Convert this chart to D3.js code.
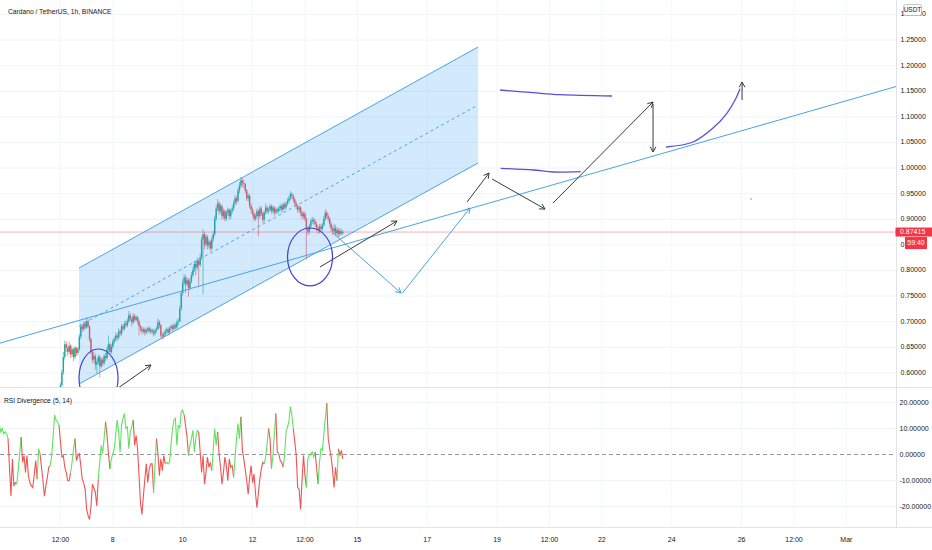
<!DOCTYPE html>
<html><head><meta charset="utf-8">
<script src="https://cdn.jsdelivr.net/npm/d3@7"></script>
<style>html,body{margin:0;padding:0;background:#fff}svg{display:block}</style>
</head><body>
<svg id="c" width="932" height="550"></svg>
<script>
// ---------------- DATA ----------------
const title = "Cardano / TetherUS, 1h, BINANCE";
const indicatorTitle = "RSI Divergence (5, 14)";
const quoteCurrency = "USDT";
const lastBar = "2022-02-14T14:00:00Z";
const firstOpen = 0.560;
const closes = [
0.575,0.600,0.630,0.655,0.648,
0.640,0.652,0.635,0.645,0.630,0.648,0.638,0.645,
0.670,0.690,0.685,0.695,0.688,
0.700,0.690,0.665,
0.640,0.625,0.632,0.615,0.620,
0.630,0.612,0.625,0.618,0.632,0.628,
0.645,0.655,0.640,0.650,0.660,0.665,0.672,
0.668,0.680,0.676,0.690,0.685,0.695,0.692,
0.700,0.712,0.705,0.698,0.710,0.703,0.708,0.700,0.690,
0.685,0.680,0.684,0.678,0.682,0.686,0.680,0.683,0.679,0.676,0.682,0.685,
0.698,0.692,0.672,0.670,
0.675,0.680,0.684,0.678,0.686,0.690,0.685,0.692,0.688,0.698,
0.700,0.725,0.755,0.775,0.785,
0.772,0.780,0.765,0.778,
0.790,0.800,0.812,0.805,0.818,0.810,0.825,
0.860,0.870,0.850,0.865,
0.848,0.855,0.842,0.860,0.870,0.900,
0.920,0.930,0.915,0.925,
0.905,0.915,0.900,0.912,0.918,0.905,0.915,0.920,
0.930,0.940,0.935,0.955,0.965,0.975,0.970,0.968,
0.955,0.940,0.945,0.925,0.918,0.910,0.900,0.905,
0.915,0.905,0.920,0.910,0.898,0.912,0.922,0.915,
0.918,0.925,0.915,0.922,0.912,0.918,0.915,
0.920,0.925,0.918,0.928,0.922,0.930,0.935,0.940,0.948,0.945,0.938,
0.930,0.925,0.918,0.922,0.912,0.905,0.910,
0.900,0.880,0.875,0.885,0.895,
0.898,0.895,0.890,0.882,0.878,0.885,0.880,0.888,
0.900,0.912,0.905,0.900,
0.890,0.880,0.876,0.882,0.872,0.878,0.870,
0.876,0.872,0.87415];
const highs = [
0.580,0.605,0.640,0.662,0.660,
0.652,0.660,0.655,0.650,0.648,0.652,0.650,0.650,
0.675,0.695,0.694,0.700,0.700,
0.708,0.704,0.692,
0.668,0.645,0.640,0.636,0.626,
0.635,0.634,0.630,0.628,0.636,0.638,
0.650,0.672,0.658,0.655,0.665,0.670,0.678,
0.676,0.686,0.684,0.695,0.694,0.700,0.702,
0.706,0.720,0.716,0.708,0.716,0.714,0.712,0.710,0.704,
0.694,0.690,0.688,0.688,0.686,0.690,0.690,0.688,0.686,0.684,0.686,0.690,
0.705,0.702,0.695,0.678,
0.680,0.685,0.688,0.688,0.690,0.694,0.694,0.696,0.696,0.703,
0.706,0.730,0.760,0.782,0.792,
0.790,0.786,0.784,0.784,
0.796,0.806,0.818,0.816,0.824,0.822,0.832,
0.866,0.880,0.874,0.870,
0.868,0.860,0.858,0.866,0.876,0.906,
0.926,0.938,0.934,0.930,
0.928,0.920,0.918,0.916,0.922,0.920,0.920,0.926,
0.936,0.946,0.944,0.960,0.972,0.982,0.980,0.976,
0.970,0.958,0.950,0.948,0.930,0.922,0.914,0.910,
0.920,0.918,0.925,0.924,0.914,0.916,0.930,0.926,
0.922,0.930,0.928,0.926,0.925,0.922,0.922,
0.924,0.930,0.928,0.932,0.932,0.934,0.940,0.945,0.954,0.952,0.948,
0.942,0.934,0.928,0.926,0.925,0.916,0.914,
0.914,0.903,0.886,0.890,0.900,
0.904,0.902,0.900,0.894,0.886,0.890,0.890,0.892,
0.906,0.918,0.916,0.910,
0.904,0.894,0.886,0.890,0.888,0.884,0.882,
0.882,0.880,0.878];
const lows = [
0.555,0.570,0.595,0.625,0.640,
0.632,0.636,0.628,0.630,0.622,0.626,0.632,0.634,
0.642,0.665,0.680,0.680,0.684,
0.685,0.686,0.660,
0.635,0.618,0.620,0.605,0.598,
0.615,0.590,0.608,0.612,0.614,0.622,
0.625,0.640,0.635,0.636,0.646,0.655,0.660,
0.662,0.664,0.670,0.672,0.680,0.682,0.688,
0.688,0.696,0.700,0.690,0.694,0.698,0.700,0.694,0.672,
0.680,0.674,0.676,0.672,0.674,0.678,0.676,0.676,0.674,0.670,0.672,0.678,
0.682,0.686,0.666,0.664,
0.666,0.670,0.676,0.672,0.674,0.682,0.680,0.682,0.684,0.685,
0.692,0.698,0.720,0.750,0.770,
0.755,0.768,0.748,0.760,
0.774,0.786,0.796,0.790,0.800,0.766,0.806,
0.820,0.752,0.840,0.845,
0.840,0.842,0.836,0.838,0.855,0.866,
0.896,0.915,0.908,0.910,
0.898,0.900,0.895,0.896,0.906,0.898,0.900,0.910,
0.916,0.926,0.928,0.932,0.950,0.960,0.962,0.960,
0.950,0.935,0.934,0.920,0.910,0.904,0.895,0.896,
0.900,0.866,0.900,0.905,0.892,0.894,0.908,0.910,
0.910,0.914,0.910,0.910,0.906,0.908,0.910,
0.910,0.916,0.912,0.914,0.918,0.918,0.926,0.930,0.936,0.938,0.932,
0.925,0.918,0.912,0.912,0.905,0.898,0.900,
0.895,0.820,0.868,0.870,0.880,
0.890,0.888,0.884,0.876,0.870,0.872,0.874,0.876,
0.884,0.896,0.900,0.894,
0.884,0.874,0.868,0.870,0.866,0.866,0.864,
0.866,0.868,0.869];
const rsiValues = [
15.2,11.5,8.7,10.0,8.0,8.7,8.0,6.1,-5.0,-16.0,-1.7,-12.1,-10.8,-11.4,-6.0,0.3,6.7,
-3.0,-0.4,-6.9,-0.4,-8.2,-10.8,-12.1,-12.7,-8.0,-2.3,-9.5,2.2,0.3,-4.9,-10.0,-16.0,
-12.1,-8.8,-4.9,-4.3,-0.4,7.0,15.2,13.2,12.6,11.3,5.0,-1.0,-0.4,-4.9,-6.9,-10.1,-10.1,
-7.0,-3.0,2.0,6.1,-2.3,-0.4,0.3,-4.3,-9.5,-11.0,-13.4,-21.1,-23.5,-25.0,-19.8,-11.4,
-13.0,-14.7,-19.8,-9.5,-3.0,3.5,0.3,6.0,12.6,7.4,0.3,-5.6,-1.7,0.3,2.2,8.0,13.2,8.7,
0.9,11.3,13.8,15.8,10.0,10.6,2.2,8.7,10.6,13.2,3.5,7.4,2.2,-8.0,-18.5,-23.1,-16.0,
-9.5,-3.6,-10.8,-5.6,-3.6,-3.6,-14.7,-4.0,6.1,0.3,-8.2,-1.7,-6.2,-0.4,-3.6,-3.0,
-3.6,-3.0,4.0,10.0,13.2,13.9,3.5,11.3,10.0,16.5,17.1,15.2,11.0,6.7,-0.4,3.5,6.1,9.3,
0.9,6.1,9.3,8.7,1.0,-6.9,-0.4,-11.4,-6.9,-1.0,-4.9,-3.0,-6.2,2.0,10.0,3.5,8.7,0.3,
-5.0,-11.4,-6.9,-1.0,-4.3,-10.1,-1.7,-4.9,-4.3,-8.8,-1.0,6.1,11.9,6.1,14.5,1.6,-1.7,
-6.0,-10.1,-15.3,-8.8,-4.3,-10.8,-7.5,-14.7,-20.5,-15.0,-9.5,-5.6,-3.0,-3.6,-1.0,4.0,
10.0,6.1,-5.6,-0.4,8.0,15.8,0.9,0.3,-2.3,-3.0,-4.9,-0.4,8.7,10.6,12.6,18.4,15.2,10.0,
5.0,-0.4,-12.7,-13.4,-21.1,-10.0,-0.4,-8.2,-12.7,-1.7,-0.4,0.3,0.9,-1.0,0.9,-5.0,
-11.4,-3.0,2.2,1.6,8.0,13.9,19.7,6.1,2.2,-1.0,-6.0,-12.7,-4.9,-10.1,2.2,-0.4,1.6,-1.7];
// colour runs of the RSI line, read left to right: [count, "G"|"R"]
const rsiColorRuns = [[8,"G"],[6,"R"],[3,"G"],[11,"R"],[2,"G"],[7,"R"],[6,"G"],[8,"R"],
[3,"G"],[16,"R"],[5,"G"],[3,"R"],[16,"G"],[14,"R"],[2,"G"],[6,"R"],[13,"G"],[3,"R"],
[7,"G"],[9,"R"],[4,"G"],[11,"R"],[5,"G"],[16,"R"],[3,"G"],[2,"R"],[3,"G"],[5,"R"],
[7,"G"],[9,"R"],[6,"G"],[2,"R"],[6,"G"],[7,"R"],[1,"G"],[3,"R"]];
const lastPrice = 0.87415;
const countdown = "59:40";
const priceTicks = [1.30,1.25,1.20,1.15,1.10,1.05,1.00,0.95,0.90,0.85,0.80,0.75,0.70,0.65,0.60];
const rsiTicks = [20,10,0,-10,-20];
const timeTicks = ["2022-02-06T12:00:00Z","2022-02-08T00:00:00Z","2022-02-10T00:00:00Z","2022-02-12T00:00:00Z",
"2022-02-13T12:00:00Z","2022-02-15T00:00:00Z","2022-02-17T00:00:00Z","2022-02-19T00:00:00Z","2022-02-20T12:00:00Z",
"2022-02-22T00:00:00Z","2022-02-24T00:00:00Z","2022-02-26T00:00:00Z","2022-02-27T12:00:00Z","2022-03-01T00:00:00Z"];
const timeTickLabels = ["12:00","8","10","12","12:00","15","17","19","12:00","22","24","26","12:00","Mar"];
// drawings (time, price anchors)
const channelTimes = ["2022-02-07T00:46:00Z","2022-02-18T10:55:00Z"];
const channelUpper = [0.8039,1.2355];
const channelMiddle = [0.6906,1.1223];
const channelLower = [0.5773,1.0090];
const trendAnchors = [["2022-02-08T12:00:00Z",0.7301],["2022-02-27T16:00:00Z",1.1045]];
const blueArrows = [
 [["2022-02-14T07:18:00Z",0.8723],["2022-02-16T06:00:00Z",0.7551]],
 [["2022-02-16T07:00:00Z",0.7551],["2022-02-18T05:25:00Z",0.9211]]];
const blackArrows = [
 [["2022-02-08T03:35:00Z",0.5695],["2022-02-09T02:14:00Z",0.6145]],
 [["2022-02-13T22:22:00Z",0.8059],["2022-02-16T03:16:00Z",0.8957]],
 [["2022-02-18T03:22:00Z",0.9328],["2022-02-18T18:29:00Z",0.9895]],
 [["2022-02-18T20:33:00Z",0.9777],["2022-02-20T08:57:00Z",0.9191]],
 [["2022-02-20T14:27:00Z",0.9309],["2022-02-23T11:09:00Z",1.1281]],
 [["2022-02-23T11:09:00Z",1.1242],["2022-02-23T11:09:00Z",1.0305]],
 [["2022-02-26T00:19:00Z",1.1320],["2022-02-26T00:19:00Z",1.1672]]];
const brushStrokes = [
 [["2022-02-19T02:02:00Z",1.1516],["2022-02-20T00:43:00Z",1.1463],["2022-02-20T19:16:00Z",1.1424],["2022-02-22T07:00:00Z",1.1398]],
 [["2022-02-19T02:31:00Z",0.9986],["2022-02-20T00:56:00Z",0.9953],["2022-02-20T14:40:00Z",0.9914],["2022-02-21T09:30:00Z",0.9920]],
 [["2022-02-23T20:05:00Z",1.0402],["2022-02-24T14:38:00Z",1.0500],["2022-02-25T04:23:00Z",1.0773],["2022-02-25T14:00:00Z",1.1066],["2022-02-25T19:30:00Z",1.1320],["2022-02-25T22:57:00Z",1.1540]]];
const ellipses = [
 [["2022-02-13T00:02:00Z",0.8820],["2022-02-14T06:56:00Z",0.7688]],
 [["2022-02-07T00:46:00Z",0.6457],["2022-02-08T03:35:00Z",0.5324]]];
const dotMark = ["2022-02-26T06:30:00Z",0.9387];

// ---------------- CHART ----------------
const W = 932, H = 550;
const paneRight = 896, mainBottom = 387, rsiTop = 388, rsiBottom = 527;
const font = "'Liberation Sans Narrow','Liberation Sans',Arial,sans-serif";
const svg = d3.select("#c");

const x = d3.scaleUtc().domain([new Date("2022-02-01T00:00:00Z"), new Date("2022-03-01T00:00:00Z")]).range([-131.7, 846.4]);
const y = d3.scaleLinear().domain([0.60, 1.25]).range([372.4, 39.6]);
const yr = d3.scaleLinear().domain([-20, 20]).range([506.5, 402.5]);
const P = p => [x(new Date(p[0])), y(p[1])];

const defs = svg.append("defs");
defs.append("clipPath").attr("id","clipMain").append("rect").attr("x",0).attr("y",0).attr("width",paneRight).attr("height",mainBottom);
defs.append("clipPath").attr("id","clipRsi").append("rect").attr("x",0).attr("y",rsiTop).attr("width",paneRight).attr("height",rsiBottom-rsiTop);

// grid
const grid = svg.append("g");
grid.selectAll("line.hg").data(priceTicks).join("line")
  .attr("x1",0).attr("x2",paneRight).attr("y1",d=>y(d)+0.5).attr("y2",d=>y(d)+0.5)
  .attr("stroke","#f0f3fa").attr("stroke-width",1);
grid.selectAll("line.rg").data(rsiTicks.filter(d=>d!==0)).join("line")
  .attr("x1",0).attr("x2",paneRight).attr("y1",d=>yr(d)).attr("y2",d=>yr(d))
  .attr("stroke","#f0f3fa").attr("stroke-width",1);
svg.append("g").selectAll("line").data(timeTicks).join("line")
  .attr("x1",d=>x(new Date(d))).attr("x2",d=>x(new Date(d)))
  .attr("y1",0).attr("y2",rsiBottom).attr("stroke","#f5f6f9").attr("stroke-width",1);

const main = svg.append("g").attr("clip-path","url(#clipMain)");

// candles
const n = closes.length;
const lastT = new Date(lastBar).getTime();
const bars = closes.map((c,i)=>({t:new Date(lastT-(n-1-i)*36e5), o:i?closes[i-1]:firstOpen, c, h:highs[i], l:lows[i]}));
const up = "#26a69a", dn = "#ef5350";
main.append("g").selectAll("line").data(bars).join("line")
  .attr("x1",d=>x(d.t)).attr("x2",d=>x(d.t)).attr("y1",d=>y(d.h)).attr("y2",d=>y(d.l))
  .attr("stroke",d=>d.c>=d.o?up:dn).attr("stroke-width",0.8).attr("stroke-opacity",0.75);
main.append("g").selectAll("rect").data(bars).join("rect")
  .attr("x",d=>x(d.t)-0.7).attr("width",1.4)
  .attr("y",d=>y(Math.max(d.o,d.c))).attr("height",d=>Math.max(0.9,Math.abs(y(d.o)-y(d.c))))
  .attr("fill",d=>d.c>=d.o?up:dn);

// channel
const cx0 = x(new Date(channelTimes[0])), cx1 = x(new Date(channelTimes[1]));
main.append("path")
  .attr("d",`M${cx0},${y(channelUpper[0])}L${cx1},${y(channelUpper[1])}L${cx1},${y(channelLower[1])}L${cx0},${y(channelLower[0])}Z`)
  .attr("fill","rgba(33,150,243,0.2)");
[channelUpper,channelLower].forEach(c=>{
  main.append("line").attr("x1",cx0).attr("y1",y(c[0])).attr("x2",cx1).attr("y2",y(c[1]))
    .attr("stroke","#4ba3e3").attr("stroke-width",1);
});
main.append("line").attr("x1",cx0).attr("y1",y(channelMiddle[0])).attr("x2",cx1).attr("y2",y(channelMiddle[1]))
  .attr("stroke","#4ba3e3").attr("stroke-width",1).attr("stroke-dasharray","3,3");

// last price line
main.append("line").attr("x1",0).attr("x2",paneRight).attr("y1",y(lastPrice)).attr("y2",y(lastPrice))
  .attr("stroke","#f23645").attr("stroke-opacity",0.4).attr("stroke-width",1);

// extended trend line
const [ta, tb] = trendAnchors.map(P);
const slope = (tb[1]-ta[1])/(tb[0]-ta[0]);
main.append("line").attr("x1",0).attr("y1",ta[1]+slope*(0-ta[0])).attr("x2",paneRight).attr("y2",ta[1]+slope*(paneRight-ta[0]))
  .attr("stroke","#4ba3e3").attr("stroke-width",1);

// arrows
function arrow(g, a, color){
  const [x0,y0] = P(a[0]), [x1,y1] = P(a[1]);
  const ang = Math.atan2(y1-y0, x1-x0), L = 6, s = 0.5;
  g.append("line").attr("x1",x0).attr("y1",y0).attr("x2",x1).attr("y2",y1).attr("stroke",color).attr("stroke-width",1);
  g.append("path").attr("d",`M${x1-L*Math.cos(ang-s)},${y1-L*Math.sin(ang-s)}L${x1},${y1}L${x1-L*Math.cos(ang+s)},${y1-L*Math.sin(ang+s)}`)
    .attr("fill","none").attr("stroke",color).attr("stroke-width",1);
}
blueArrows.forEach(a=>arrow(main,a,"#4ba3e3"));
blackArrows.forEach(a=>arrow(main,a,"#3a3a3a"));

// brush strokes
const brushLine = d3.line().x(d=>P(d)[0]).y(d=>P(d)[1]).curve(d3.curveCatmullRom);
main.selectAll("path.brush").data(brushStrokes).join("path").attr("class","brush")
  .attr("d",brushLine).attr("fill","none").attr("stroke","#5a4fdc").attr("stroke-width",1.3);

// ellipses
main.selectAll("ellipse").data(ellipses).join("ellipse")
  .attr("cx",d=>(P(d[0])[0]+P(d[1])[0])/2).attr("cy",d=>(P(d[0])[1]+P(d[1])[1])/2)
  .attr("rx",d=>Math.abs(P(d[1])[0]-P(d[0])[0])/2).attr("ry",d=>Math.abs(P(d[1])[1]-P(d[0])[1])/2)
  .attr("fill","none").attr("stroke","#3f3fd2").attr("stroke-width",1.2);
main.append("circle").attr("cx",P(dotMark)[0]).attr("cy",P(dotMark)[1]).attr("r",0.8).attr("fill","#888");

// RSI pane
const rsiG = svg.append("g").attr("clip-path","url(#clipRsi)");
rsiG.append("line").attr("x1",0).attr("x2",paneRight).attr("y1",yr(0)).attr("y2",yr(0))
  .attr("stroke","#9598a1").attr("stroke-width",1).attr("stroke-dasharray","4,3");
const rn = rsiValues.length;
const rsi = rsiValues.map((v,i)=>({t:new Date(lastT-(rn-1-i)*36e5), v}));
const rsiLine = d3.line().x(d=>x(d.t)).y(d=>yr(d.v));
let start = 0;
rsiColorRuns.forEach(([cnt,col])=>{
  const seg = rsi.slice(Math.max(0,start-1), start+cnt);
  rsiG.append("path").attr("d",rsiLine(seg)).attr("fill","none")
    .attr("stroke", col==="G" ? "#5fe35f" : "#f05454").attr("stroke-width",1.1);
  start += cnt;
});

// pane borders
svg.append("line").attr("x1",0).attr("x2",W).attr("y1",387.5).attr("y2",387.5).attr("stroke","#e0e3eb");
svg.append("line").attr("x1",0).attr("x2",W).attr("y1",rsiBottom+0.5).attr("y2",rsiBottom+0.5).attr("stroke","#e0e3eb");
svg.append("line").attr("x1",paneRight+0.5).attr("x2",paneRight+0.5).attr("y1",0).attr("y2",rsiBottom).attr("stroke","#e0e3eb");

// price axis labels
const txt = "#131722";
svg.append("g").selectAll("text").data(priceTicks).join("text")
  .attr("x",900.5).attr("y",d=>y(d)).attr("dy","0.35em")
  .attr("font-family",font).attr("font-size",7).attr("fill",txt).text(d=>d.toFixed(5));
svg.append("g").selectAll("text").data(rsiTicks).join("text")
  .attr("x",899.5).attr("y",d=>yr(d)).attr("dy","0.35em")
  .attr("font-family",font).attr("font-size",7).attr("fill",txt).text(d=>d.toFixed(5));

// time axis labels
svg.append("g").selectAll("text").data(timeTicks).join("text")
  .attr("x",d=>x(new Date(d))).attr("y",542).attr("text-anchor","middle")
  .attr("font-family",font).attr("font-size",7).attr("fill",txt).text((d,i)=>timeTickLabels[i]);

// last price label + countdown
const ly = y(lastPrice);
svg.append("rect").attr("x",paneRight-0.5).attr("y",ly-4.5).attr("width",W-paneRight+1).attr("height",9).attr("fill","#f23645");
svg.append("text").attr("x",900).attr("y",ly).attr("dy","0.35em").attr("font-family",font).attr("font-size",7)
  .attr("fill","#fff").text(lastPrice.toFixed(5));
svg.append("rect").attr("x",905).attr("y",ly+5).attr("width",22).attr("height",12).attr("fill","#f23645");
svg.append("text").attr("x",916).attr("y",ly+11).attr("dy","0.35em").attr("text-anchor","middle").attr("font-family",font).attr("font-size",7)
  .attr("fill","#fff").text(countdown);

// currency box
svg.append("rect").attr("x",903.5).attr("y",4.5).attr("width",18).attr("height",11).attr("rx",2)
  .attr("fill","#fff").attr("stroke","#b2b5be").attr("stroke-width",0.8);
svg.append("text").attr("x",912.5).attr("y",10).attr("dy","0.35em").attr("text-anchor","middle")
  .attr("font-family",font).attr("font-size",6.5).attr("fill",txt).text(quoteCurrency);

// titles
svg.append("text").attr("x",8).attr("y",14).attr("font-family",font).attr("font-size",6.7).attr("fill",txt).text(title);
svg.append("text").attr("x",4).attr("y",403).attr("font-family",font).attr("font-size",6.7).attr("fill",txt).text(indicatorTitle);
</script>
</body></html>
